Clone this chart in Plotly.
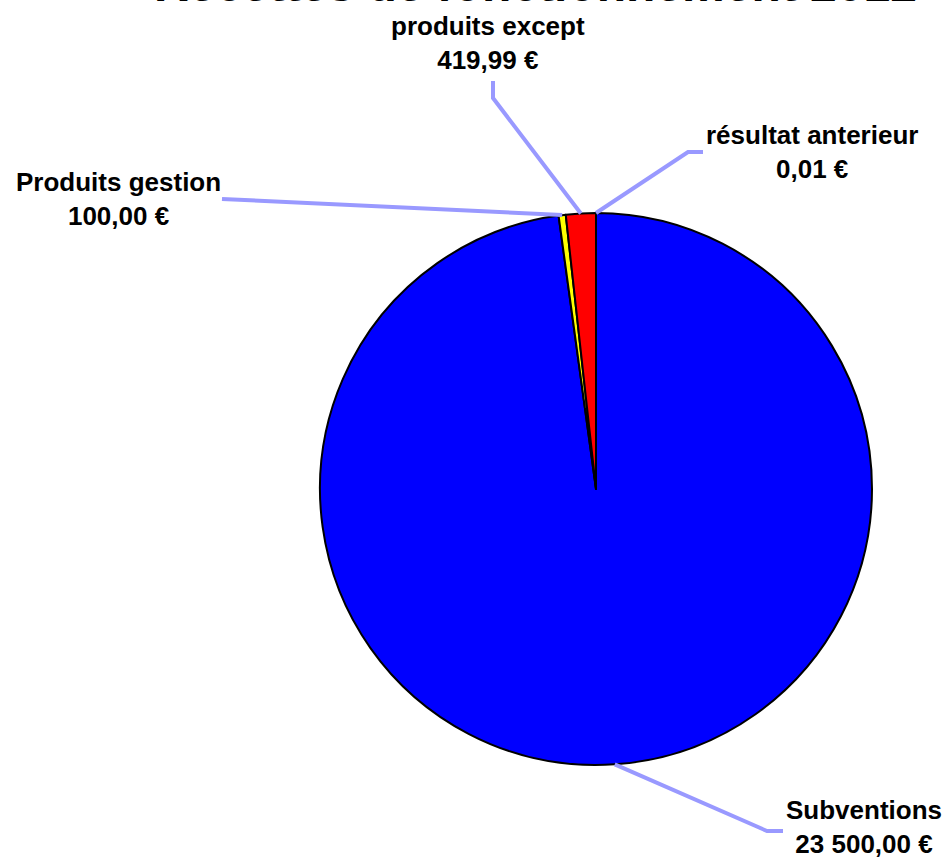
import math
import plotly.graph_objects as go

# ---- data ----
labels = ["résultat anterieur", "Subventions", "Produits gestion", "produits except"]
values = [0.01, 23500.00, 100.00, 419.99]
colors = ["#00FFFF", "#0000FF", "#FFFF00", "#FF0000"]
title_text = "Recettes de fonctionnement 2012"

W, H = 949, 862
CX, CY, R = 596, 489, 276  # pie centre / radius in screen pixels


def fr_money(v):
    s = f"{v:,.2f}"
    s = s.replace(",", " ").replace(".", ",")
    return s + " €"


def px(x):
    return x / W


def py(y):
    return 1 - y / H


fig = go.Figure(go.Pie(
    labels=labels,
    values=values,
    sort=False,
    direction="clockwise",
    rotation=0,
    marker=dict(colors=colors, line=dict(color="#000000", width=2)),
    textinfo="none",
    hoverinfo="label+value",
    showlegend=False,
    domain=dict(x=[px(CX - R), px(CX + R)], y=[py(CY + R), py(CY - R)]),
))

# label positions (screen pixels) and leader-line elbows/ends
label_pos = {
    "résultat anterieur": dict(tx=812, ty=152, path=[(688, 152), (703, 152)]),
    "Subventions": dict(tx=864, ty=827, path=[(767, 831), (783, 831)]),
    "Produits gestion": dict(tx=118, ty=199, path=[(222, 199)]),
    "produits except": dict(tx=488, ty=43, path=[(493, 98), (493, 81)]),
}

total = sum(values)
cum = 0.0
shapes = []
annotations = []
for lab, val in zip(labels, values):
    mid = (cum + val / 2) / total * 2 * math.pi
    cum += val
    sx = CX + R * math.sin(mid)
    sy = CY - R * math.cos(mid)
    info = label_pos[lab]
    pts = [(sx, sy)] + info["path"]
    d = "M " + " L ".join(f"{px(x)},{py(y)}" for x, y in pts)
    shapes.append(dict(type="path", path=d, xref="paper", yref="paper",
                       line=dict(color="#9999FF", width=4)))
    annotations.append(dict(
        x=px(info["tx"]), y=py(info["ty"]), xref="paper", yref="paper",
        text=f"<b>{lab}</b><br><b>{fr_money(val)}</b>",
        showarrow=False, align="center", xanchor="center", yanchor="middle",
        font=dict(family="Liberation Sans, Arial, sans-serif", size=26, color="#000000"),
    ))

annotations.append(dict(
    x=px(535), y=py(1), xref="paper", yref="paper", xanchor="center", yanchor="bottom",
    text=f"<b>{title_text}</b>", showarrow=False, yshift=-12,
    font=dict(family="Liberation Sans, Arial, sans-serif", size=48, color="#000000"),
))

fig.update_layout(
    width=W, height=H,
    margin=dict(l=0, r=0, t=0, b=0),
    paper_bgcolor="#FFFFFF",
    plot_bgcolor="#FFFFFF",
    shapes=shapes,
    annotations=annotations,
)

fig.write_html("out.html", config={"displayModeBar": False},
               post_script="document.body.style.margin='0px';")
